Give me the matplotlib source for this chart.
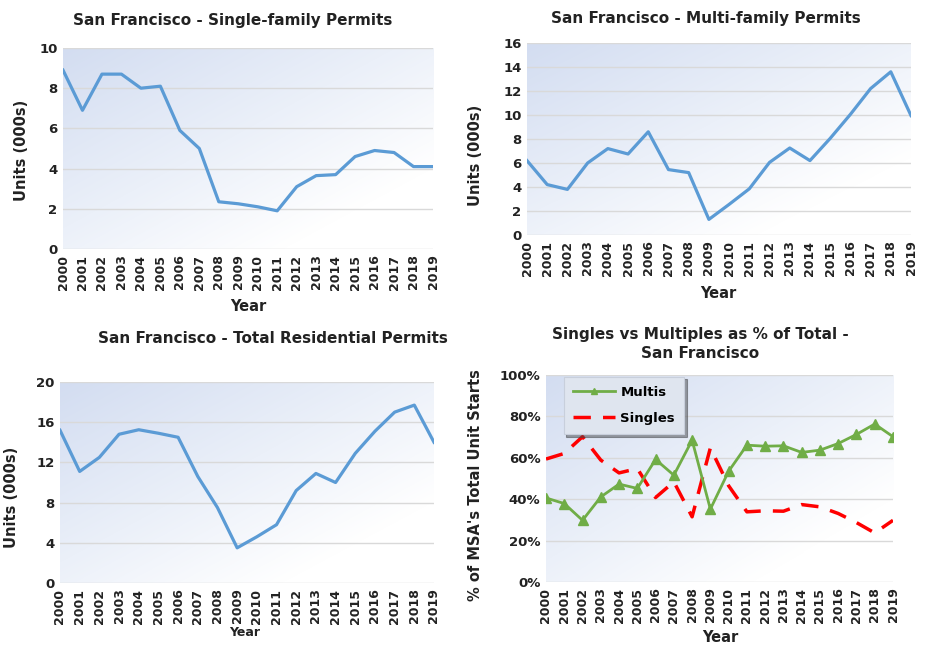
import numpy as np
import matplotlib
matplotlib.use("Agg")
import matplotlib.pyplot as plt
from matplotlib.colors import LinearSegmentedColormap
from matplotlib.ticker import FuncFormatter

years = list(range(2000, 2020))
year_labels = [str(y) for y in years]

single_family = [8.9, 6.9, 8.7, 8.7, 8.0, 8.1, 5.9, 5.0, 2.35, 2.25, 2.1, 1.9, 3.1, 3.65, 3.7, 4.6, 4.9, 4.8, 4.1, 4.1]
multi_family = [6.2, 4.2, 3.8, 6.0, 7.2, 6.75, 8.6, 5.45, 5.2, 1.3, 2.55, 3.85, 6.05, 7.25, 6.2, 8.05, 10.05, 12.2, 13.6, 9.95]
total_permits = [15.2, 11.1, 12.5, 14.8, 15.25, 14.9, 14.5, 10.6, 7.5, 3.5, 4.6, 5.8, 9.2, 10.9, 10.0, 12.9, 15.1, 17.0, 17.7, 14.0]
multis_pct = [40.6, 37.9, 29.8, 41.1, 47.3, 45.2, 59.2, 51.6, 68.5, 35.2, 53.5, 66.1, 65.6, 65.8, 62.6, 63.7, 66.9, 71.3, 76.3, 70.2]
singles_pct = [59.4, 62.1, 70.2, 58.9, 52.7, 54.8, 40.8, 48.4, 31.5, 64.8, 46.5, 33.9, 34.4, 34.2, 37.4, 36.3, 33.1, 28.7, 23.7, 29.8]

W, H = 927, 646
fig = plt.figure(figsize=(W / 100, H / 100), dpi=100)
FONT = "DejaVu Sans"
plt.rcParams['font.family'] = [FONT]

cmap = LinearSegmentedColormap.from_list(
    "bg", [(0.0, "#d3ddf1"), (0.45, "#ebf0f9"), (0.8, "#ffffff"), (1.0, "#ffffff")])

def px_ax(x0, y0, x1, y1):
    return fig.add_axes([x0 / W, 1 - y1 / H, (x1 - x0) / W, (y1 - y0) / H])

def style(ax, ymax, step):
    # diagonal gradient background: light blue at top-left, white at bottom-right
    xx, yy = np.meshgrid(np.linspace(0, 1, 200), np.linspace(0, 1, 200))
    g = (xx + yy) / 2.0
    ax.imshow(g, extent=[0, 1, 0, 1], transform=ax.transAxes, cmap=cmap,
              aspect="auto", zorder=0, origin="upper", vmin=0, vmax=1.0)
    ax.set_xlim(0, len(years) - 1)
    ax.set_ylim(0, ymax)
    ax.set_yticks(np.arange(0, ymax + 0.001, step))
    ax.set_xticks(range(len(years)))
    ax.set_xticklabels(year_labels, rotation=90, fontsize=9, fontweight="bold", color="#222222")
    for lab in ax.get_yticklabels():
        lab.set_fontsize(9.5)
        lab.set_fontweight("bold")
        lab.set_color("#222222")
    ax.tick_params(length=0, pad=4)
    ax.grid(axis="y", color="#d9d9d9", linewidth=1, zorder=1)
    for s in ax.spines.values():
        s.set_visible(False)
    ax.set_axisbelow(True)

blue = "#5b9bd5"
TITLE_FS = 11

# Panel 1
ax1 = px_ax(63, 48, 433, 249)
style(ax1, 10, 2)
ax1.plot(range(len(years)), single_family, color=blue, lw=2.3, zorder=3)
fig.text(233 / W, 1 - 20 / H, "San Francisco - Single-family Permits", ha="center", va="center",
         fontsize=TITLE_FS, fontweight="bold", color="#222222")
fig.text(248 / W, 1 - 307 / H, "Year", ha="center", va="center", fontsize=10.5, fontweight="bold", color="#222222")
fig.text(22 / W, 1 - 150 / H, "Units (000s)", ha="center", va="center", rotation=90,
         fontsize=10.5, fontweight="bold", color="#222222")

# Panel 2
ax2 = px_ax(527, 43, 911, 235)
style(ax2, 16, 2)
ax2.plot(range(len(years)), multi_family, color=blue, lw=2.3, zorder=3)
fig.text(706 / W, 1 - 18 / H, "San Francisco - Multi-family Permits", ha="center", va="center",
         fontsize=TITLE_FS, fontweight="bold", color="#222222")
fig.text(718 / W, 1 - 293 / H, "Year", ha="center", va="center", fontsize=10.5, fontweight="bold", color="#222222")
fig.text(476 / W, 1 - 155 / H, "Units (000s)", ha="center", va="center", rotation=90,
         fontsize=10.5, fontweight="bold", color="#222222")

# Panel 3
ax3 = px_ax(60, 382, 434, 583)
style(ax3, 20, 4)
ax3.plot(range(len(years)), total_permits, color=blue, lw=2.3, zorder=3)
fig.text(273 / W, 1 - 339 / H, "San Francisco - Total Residential Permits", ha="center", va="center",
         fontsize=TITLE_FS, fontweight="bold", color="#222222")
fig.text(245 / W, 1 - 632 / H, "Year", ha="center", va="center", fontsize=9, fontweight="bold", color="#222222")
fig.text(12 / W, 1 - 497 / H, "Units (000s)", ha="center", va="center", rotation=90,
         fontsize=10.5, fontweight="bold", color="#222222")

# Panel 4
ax4 = px_ax(546, 375, 893, 582)
style(ax4, 100, 20)
ax4.yaxis.set_major_formatter(FuncFormatter(lambda v, p: f"{int(v)}%"))
for lab in ax4.get_yticklabels():
    lab.set_fontsize(9.5)
    lab.set_fontweight("bold")
ax4.plot(range(len(years)), multis_pct, color="#70ad47", lw=2, marker="^", markersize=6.5,
         label="Multis", zorder=4)
ax4.plot(range(len(years)), singles_pct, color="#ff0000", lw=2.5, dashes=(5, 3.5),
         label="Singles", zorder=3)
leg = ax4.legend(loc="upper left", bbox_to_anchor=((557 - 546) / 347, 1 - (370 - 375) / 207),
                 frameon=True, fancybox=False, shadow=True,
                 prop={"weight": "bold", "size": 9.5}, borderpad=0.7, labelspacing=1.0,
                 handlelength=3.2, handletextpad=0.4, markerscale=0.6)
leg.get_frame().set_facecolor("#dfe5ef")
leg.get_frame().set_edgecolor("#c8cfdc")
leg.get_frame().set_linewidth(0.8)
fig.text(700 / W, 1 - 334 / H, "Singles vs Multiples as % of Total -", ha="center", va="center",
         fontsize=TITLE_FS, fontweight="bold", color="#222222")
fig.text(700 / W, 1 - 354 / H, "San Francisco", ha="center", va="center",
         fontsize=TITLE_FS, fontweight="bold", color="#222222")
fig.text(720 / W, 1 - 638 / H, "Year", ha="center", va="center", fontsize=10.5, fontweight="bold", color="#222222")
fig.text(476 / W, 1 - 485 / H, "% of MSA's Total Unit Starts", ha="center", va="center", rotation=90,
         fontsize=10.5, fontweight="bold", color="#222222")

fig.savefig("out.png", dpi=100)
